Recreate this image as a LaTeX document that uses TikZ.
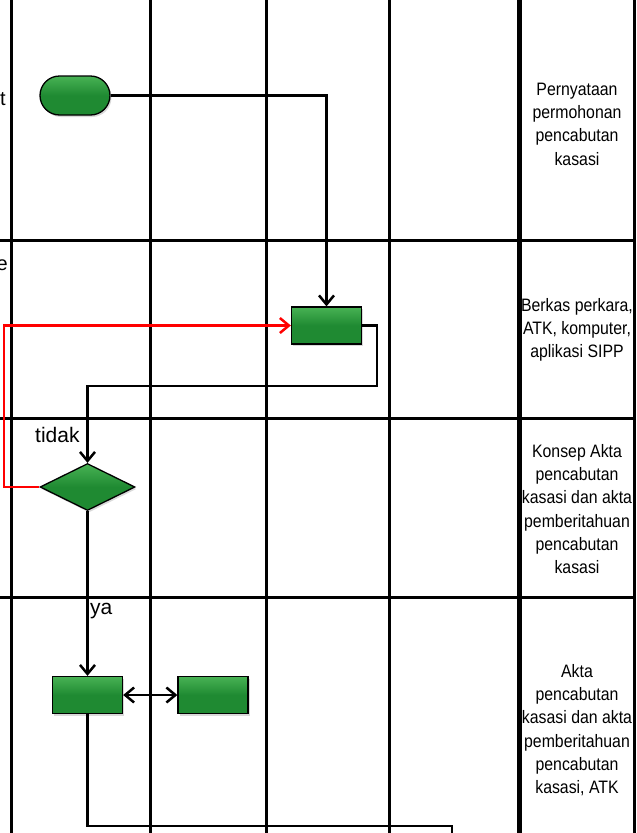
\documentclass[tikz,border=0pt]{standalone}
\usepackage{fontspec}
\setmainfont{Liberation Sans}
\newfontfamily\narrowfont[FakeStretch=0.88]{Liberation Sans}
\usetikzlibrary{arrows.meta,shapes.geometric,shapes.misc,shadows}
\definecolor{flowgreen}{RGB}{31,138,50}
\definecolor{flowlight}{RGB}{72,178,84}
\tikzset{
  lane/.style={line width=2.5pt},
  flow/.style={line width=2.5pt,-{Straight Barb[length=9pt,width=15pt]}},
  green box/.style={draw=black,line width=1.3pt,top color=flowlight,bottom color=flowgreen,
    middle color=flowgreen,drop shadow={shadow xshift=1.5pt,shadow yshift=-2pt,opacity=0.3}},
  proc/.style={green box,rectangle,minimum width=70pt,minimum height=37pt,inner sep=0pt},
  term/.style={green box,rounded rectangle,minimum width=70pt,minimum height=39pt,inner sep=0pt},
  cek/.style={green box,diamond,minimum width=95pt,minimum height=47pt,inner sep=0pt},
  note/.style={align=center,font=\narrowfont\fontsize{18}{23.3}\selectfont},
  word/.style={anchor=base west,inner sep=0pt,font=\fontsize{21}{25}\selectfont}
}
\begin{document}
\begin{tikzpicture}[x=1pt,y=-1pt]
\useasboundingbox (0,0) rectangle (637,833);
% lanes
\foreach \x in {11.5,150.5,266.5,389.5,634.5}
  \draw[lane] (\x,0) -- (\x,833);
\draw[line width=5pt] (519.5,0) -- (519.5,833);
\foreach \y in {240.5,418.5,597.5}
  \draw[lane] (0,\y) -- (635,\y);
\node[anchor=base east,inner sep=0pt,font=\fontsize{20}{24}\selectfont] (t) at (6,105) {t};
\node[anchor=base east,inner sep=0pt,font=\fontsize{20}{24}\selectfont] (e) at (8,270) {e};
% shapes
\node[term] (start) at (75,95.5) {};
\node[proc] (berkas) at (326.5,325.5) {};
\node[cek] (cek) at (87.5,487) {};
\node[proc] (akta) at (87.5,695) {};
\node[proc] (arsip) at (213,695) {};
\coordinate (lanjut) at (452,840);
% connectors
\draw[flow] (start.east) -| (berkas.north);
\draw[flow] (berkas.east) -| (377,386) -| (cek.north);
\draw[flow,red] (cek.west) -| (4,325.5) -- (berkas.west);
\draw[flow] (cek.south) -- (akta.north);
\draw[line width=2.5pt,{Straight Barb[length=9pt,width=15pt]}-{Straight Barb[length=9pt,width=15pt]}] (akta.east) -- (arsip.west);
\draw[lane] (akta.south) |- (452,826) -- (lanjut);
\node[word] (tidak) at (35,442) {tidak};
\node[word] (ya) at (90,614) {ya};
% notes
\node[note] (n1) at (577,124) {Pernyataan\\permohonan\\pencabutan\\kasasi};
\node[note] (n2) at (577,330) {Berkas perkara,\\ATK, komputer,\\aplikasi SIPP};
\node[note] (n3) at (577,509) {Konsep Akta\\pencabutan\\kasasi dan akta\\pemberitahuan\\pencabutan\\kasasi};
\node[note] (n4) at (577,730) {Akta\\pencabutan\\kasasi dan akta\\pemberitahuan\\pencabutan\\kasasi, ATK};
\end{tikzpicture}
\end{document}
